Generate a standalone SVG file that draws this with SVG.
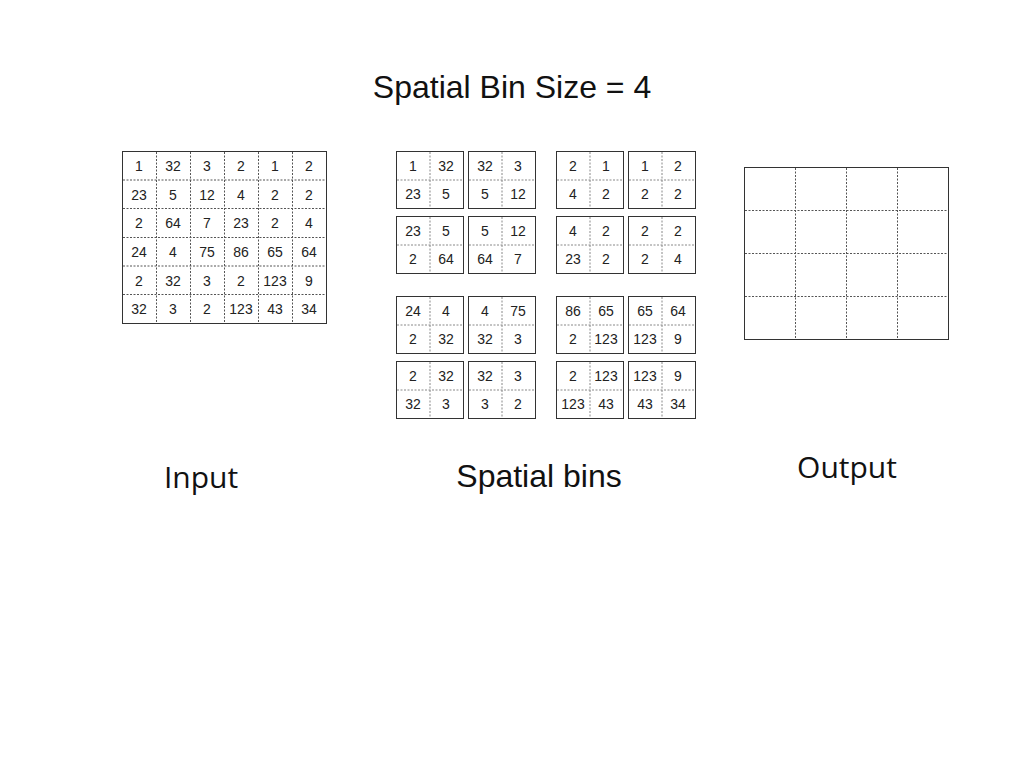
<svg xmlns="http://www.w3.org/2000/svg" xmlns:xlink="http://www.w3.org/1999/xlink" width="1024" height="768" viewBox="0 0 1024 768">
<style>
.border{fill:#fff;stroke:#333;stroke-width:1}
.dash{stroke:#555;stroke-width:1;stroke-dasharray:2,1.5;fill:none}
.dashl{stroke:#888;stroke-width:1;stroke-dasharray:2,1.5;fill:none}
.num{font-family:"Liberation Sans",Arial,sans-serif;font-size:14px;fill:#222;text-anchor:middle}
.title{font-family:"Liberation Sans",Arial,sans-serif;font-size:32px;fill:#111;text-anchor:middle}
.label{font-family:"Open Sans","Liberation Sans",sans-serif;font-size:30px;fill:#111;text-anchor:middle}
</style>
<defs>
<g id="bin">
<rect class="border" x="0.5" y="0.5" width="67" height="57"/>
<line class="dashl" x1="34" y1="1" x2="34" y2="57"/>
<line class="dashl" x1="1" y1="29" x2="67" y2="29"/>
</g>
</defs>
<rect width="1024" height="768" fill="#fff"/>
<text class="title" x="512" y="98">Spatial Bin Size = 4</text>

<g id="input">
<rect class="border" x="122.5" y="151.5" width="204" height="172"/>
<g class="dash">
<line x1="156.5" y1="152" x2="156.5" y2="323"/>
<line x1="190.5" y1="152" x2="190.5" y2="323"/>
<line x1="224.5" y1="152" x2="224.5" y2="323"/>
<line x1="258.5" y1="152" x2="258.5" y2="323"/>
<line x1="292.5" y1="152" x2="292.5" y2="323"/>
<line x1="123" y1="180" x2="326" y2="180"/>
<line x1="123" y1="208.5" x2="326" y2="208.5"/>
<line x1="123" y1="237.5" x2="326" y2="237.5"/>
<line x1="123" y1="266" x2="326" y2="266"/>
<line x1="123" y1="294.5" x2="326" y2="294.5"/>
</g>
<g class="num">
<text x="139" y="171">1</text><text x="173" y="171">32</text><text x="207" y="171">3</text><text x="241" y="171">2</text><text x="275" y="171">1</text><text x="309" y="171">2</text>
<text x="139" y="199.5">23</text><text x="173" y="199.5">5</text><text x="207" y="199.5">12</text><text x="241" y="199.5">4</text><text x="275" y="199.5">2</text><text x="309" y="199.5">2</text>
<text x="139" y="228">2</text><text x="173" y="228">64</text><text x="207" y="228">7</text><text x="241" y="228">23</text><text x="275" y="228">2</text><text x="309" y="228">4</text>
<text x="139" y="257">24</text><text x="173" y="257">4</text><text x="207" y="257">75</text><text x="241" y="257">86</text><text x="275" y="257">65</text><text x="309" y="257">64</text>
<text x="139" y="285.5">2</text><text x="173" y="285.5">32</text><text x="207" y="285.5">3</text><text x="241" y="285.5">2</text><text x="275" y="285.5">123</text><text x="309" y="285.5">9</text>
<text x="139" y="314">32</text><text x="173" y="314">3</text><text x="207" y="314">2</text><text x="241" y="314">123</text><text x="275" y="314">43</text><text x="309" y="314">34</text>
</g>
</g>

<g id="spatial-bins">
<g id="bin-1" transform="translate(396,151)"><use xlink:href="#bin"/><g class="num"><text x="17" y="20">1</text><text x="50" y="20">32</text><text x="17" y="48">23</text><text x="50" y="48">5</text></g></g>
<g id="bin-2" transform="translate(468,151)"><use xlink:href="#bin"/><g class="num"><text x="17" y="20">32</text><text x="50" y="20">3</text><text x="17" y="48">5</text><text x="50" y="48">12</text></g></g>
<g id="bin-3" transform="translate(396,216)"><use xlink:href="#bin"/><g class="num"><text x="17" y="20">23</text><text x="50" y="20">5</text><text x="17" y="48">2</text><text x="50" y="48">64</text></g></g>
<g id="bin-4" transform="translate(468,216)"><use xlink:href="#bin"/><g class="num"><text x="17" y="20">5</text><text x="50" y="20">12</text><text x="17" y="48">64</text><text x="50" y="48">7</text></g></g>

<g id="bin-5" transform="translate(556,151)"><use xlink:href="#bin"/><g class="num"><text x="17" y="20">2</text><text x="50" y="20">1</text><text x="17" y="48">4</text><text x="50" y="48">2</text></g></g>
<g id="bin-6" transform="translate(628,151)"><use xlink:href="#bin"/><g class="num"><text x="17" y="20">1</text><text x="50" y="20">2</text><text x="17" y="48">2</text><text x="50" y="48">2</text></g></g>
<g id="bin-7" transform="translate(556,216)"><use xlink:href="#bin"/><g class="num"><text x="17" y="20">4</text><text x="50" y="20">2</text><text x="17" y="48">23</text><text x="50" y="48">2</text></g></g>
<g id="bin-8" transform="translate(628,216)"><use xlink:href="#bin"/><g class="num"><text x="17" y="20">2</text><text x="50" y="20">2</text><text x="17" y="48">2</text><text x="50" y="48">4</text></g></g>

<g id="bin-9" transform="translate(396,296)"><use xlink:href="#bin"/><g class="num"><text x="17" y="20">24</text><text x="50" y="20">4</text><text x="17" y="48">2</text><text x="50" y="48">32</text></g></g>
<g id="bin-10" transform="translate(468,296)"><use xlink:href="#bin"/><g class="num"><text x="17" y="20">4</text><text x="50" y="20">75</text><text x="17" y="48">32</text><text x="50" y="48">3</text></g></g>
<g id="bin-11" transform="translate(396,361)"><use xlink:href="#bin"/><g class="num"><text x="17" y="20">2</text><text x="50" y="20">32</text><text x="17" y="48">32</text><text x="50" y="48">3</text></g></g>
<g id="bin-12" transform="translate(468,361)"><use xlink:href="#bin"/><g class="num"><text x="17" y="20">32</text><text x="50" y="20">3</text><text x="17" y="48">3</text><text x="50" y="48">2</text></g></g>

<g id="bin-13" transform="translate(556,296)"><use xlink:href="#bin"/><g class="num"><text x="17" y="20">86</text><text x="50" y="20">65</text><text x="17" y="48">2</text><text x="50" y="48">123</text></g></g>
<g id="bin-14" transform="translate(628,296)"><use xlink:href="#bin"/><g class="num"><text x="17" y="20">65</text><text x="50" y="20">64</text><text x="17" y="48">123</text><text x="50" y="48">9</text></g></g>
<g id="bin-15" transform="translate(556,361)"><use xlink:href="#bin"/><g class="num"><text x="17" y="20">2</text><text x="50" y="20">123</text><text x="17" y="48">123</text><text x="50" y="48">43</text></g></g>
<g id="bin-16" transform="translate(628,361)"><use xlink:href="#bin"/><g class="num"><text x="17" y="20">123</text><text x="50" y="20">9</text><text x="17" y="48">43</text><text x="50" y="48">34</text></g></g>
</g>

<g id="output">
<rect class="border" x="744.5" y="167.5" width="204" height="172"/>
<g class="dash">
<line x1="795.5" y1="168" x2="795.5" y2="339"/>
<line x1="846.5" y1="168" x2="846.5" y2="339"/>
<line x1="897.5" y1="168" x2="897.5" y2="339"/>
<line x1="745" y1="210.5" x2="948" y2="210.5"/>
<line x1="745" y1="253.5" x2="948" y2="253.5"/>
<line x1="745" y1="296.5" x2="948" y2="296.5"/>
</g>
</g>

<g id="labels">
<text class="label" x="201" y="488">Input</text>
<text class="title" x="539" y="487">Spatial bins</text>
<text class="label" x="847" y="478">Output</text>
</g>
</svg>
